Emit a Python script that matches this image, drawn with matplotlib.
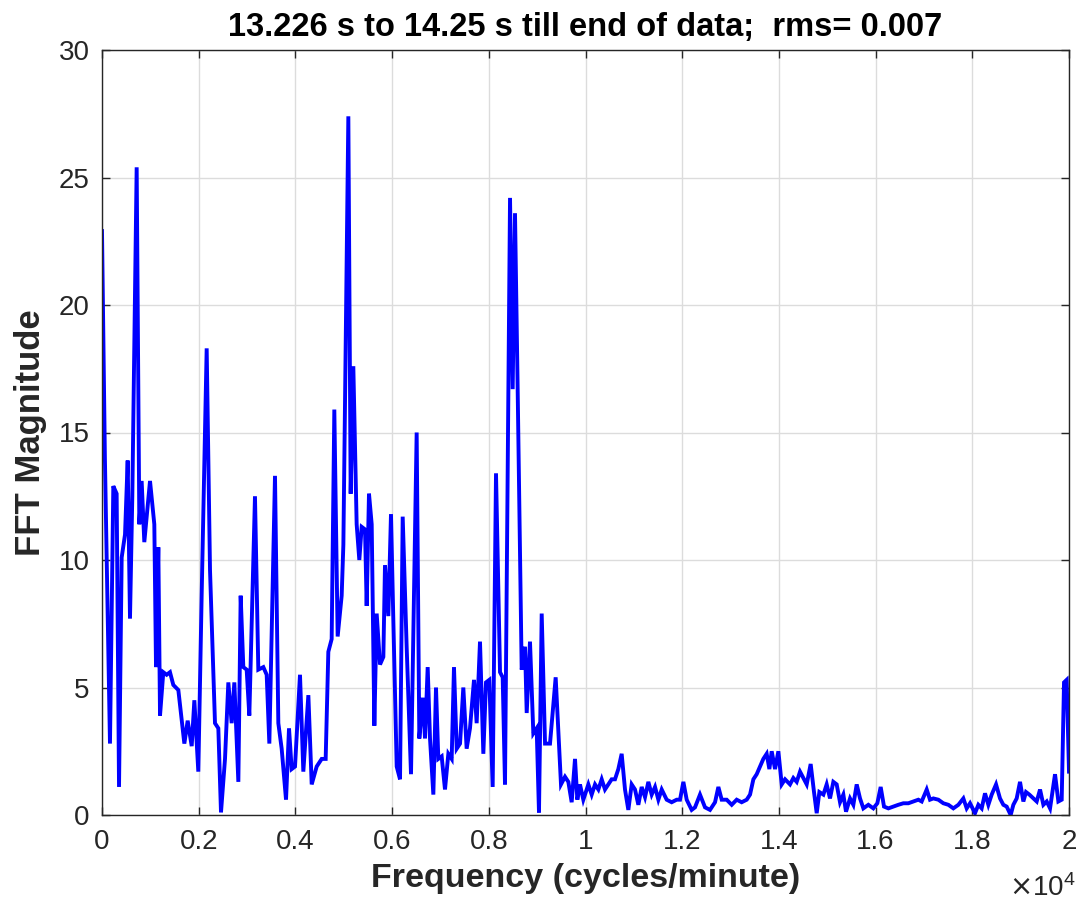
import matplotlib
matplotlib.use("Agg")
import matplotlib.pyplot as plt
from matplotlib.ticker import FuncFormatter

plt.rcParams['font.family'] = ['Liberation Sans', 'DejaVu Sans']

title_text = "13.226 s to 14.25 s till end of data;  rms= 0.007"
x_label = "Frequency (cycles/minute)"
y_label = "FFT Magnitude"

freq_cpm = [
    0, 60, 165, 234, 303, 352, 407, 476, 531, 579, 627, 717, 772, 820, 875, 993,
    1082, 1117, 1165, 1200, 1268, 1337, 1406, 1475, 1579, 1703, 1772, 1855, 1910,
    1992, 2061, 2165, 2234, 2337, 2406, 2461, 2544, 2613, 2682, 2737, 2820, 2868,
    2923, 2992, 3047, 3164, 3233, 3337, 3406, 3461, 3578, 3647, 3716, 3806, 3868,
    3923, 3992, 4095, 4164, 4268, 4337, 4440, 4544, 4626, 4681, 4750, 4805, 4874,
    4957, 4992, 5095, 5143, 5198, 5267, 5322, 5371, 5440, 5474, 5522, 5578, 5633,
    5681, 5750, 5819, 5853, 5922, 5977, 6026, 6095, 6164, 6219, 6301, 6391, 6508,
    6563, 6632, 6681, 6736, 6784, 6853, 6908, 6956, 7025, 7094, 7163, 7232, 7280,
    7336, 7405, 7473, 7542, 7611, 7694, 7749, 7818, 7887, 7942, 8011, 8080, 8149,
    8232, 8287, 8335, 8439, 8494, 8542, 8597, 8680, 8749, 8784, 8852, 8921, 8990,
    9038, 9094, 9163, 9266, 9383, 9493, 9576, 9645, 9714, 9783, 9831, 9886, 9955,
    10059, 10128, 10197, 10266, 10335, 10403, 10472, 10541, 10610, 10679, 10748,
    10817, 10886, 10955, 11024, 11093, 11162, 11231, 11300, 11369, 11438, 11507,
    11576, 11679, 11782, 11886, 11955, 12024, 12093, 12196, 12265, 12368, 12472,
    12575, 12679, 12748, 12817, 12920, 13024, 13127, 13230, 13334, 13403, 13472,
    13541, 13610, 13678, 13747, 13803, 13851, 13920, 13989, 14058, 14127, 14230,
    14299, 14368, 14437, 14506, 14575, 14657, 14726, 14782, 14837, 14920, 14988,
    15057, 15126, 15195, 15264, 15333, 15388, 15471, 15540, 15609, 15678, 15747,
    15850, 15953, 16036, 16105, 16174, 16264, 16367, 16470, 16574, 16677, 16781,
    16884, 16953, 17057, 17125, 17194, 17298, 17401, 17505, 17608, 17712, 17815,
    17884, 17953, 18056, 18125, 18194, 18263, 18332, 18401, 18491, 18573, 18642,
    18711, 18794, 18849, 18918, 18987, 19056, 19111, 19180, 19263, 19332, 19401,
    19470, 19539, 19608, 19711, 19780, 19849, 19897, 19952, 20000,
]

fft_mag = [
    22.9, 14.0, 2.8, 12.9, 12.6, 1.1, 10.1, 11.0, 13.9, 7.7, 12.5, 25.4, 11.4, 13.1, 10.7, 13.1,
    11.4, 5.8, 10.5, 3.9, 5.6, 5.5, 5.6, 5.1, 4.9, 2.8, 3.7, 2.7, 4.5,
    1.7, 8.6, 18.3, 9.6, 3.6, 3.4, 0.1, 2.2, 5.2, 3.6, 5.2, 1.3, 8.6,
    5.8, 5.7, 3.9, 12.5, 5.7, 5.8, 5.5, 2.8, 13.3, 3.6, 2.6, 0.6, 3.4,
    1.8, 1.9, 5.5, 1.7, 4.7, 1.2, 1.9, 2.2, 2.2, 6.4, 6.9, 15.9, 7.0,
    8.6, 10.6, 27.4, 12.6, 17.6, 11.4, 10.0, 11.3, 11.2, 8.2, 12.6, 11.4, 3.5,
    7.9, 5.9, 6.2, 9.8, 7.8, 11.8, 7.6, 1.9, 1.4, 11.7, 6.6, 1.6, 15.0,
    3.0, 4.6, 3.0, 5.8, 3.0, 0.8, 5.0, 2.2, 2.3, 1.0, 2.4, 2.2, 5.8,
    2.6, 2.8, 5.0, 2.6, 3.4, 5.3, 3.6, 6.8, 2.4, 5.2, 5.3, 1.1, 13.4,
    5.6, 5.4, 1.2, 24.2, 16.7, 23.6, 16.7, 5.7, 6.6, 4.0, 6.8, 3.2, 3.4,
    0.1, 7.9, 2.8, 2.8, 5.4, 1.2, 1.5, 1.3, 0.5, 2.2, 0.6, 1.2, 0.6,
    1.2, 0.8, 1.2, 1.0, 1.4, 1.0, 1.2, 1.4, 1.4, 1.8, 2.4,
    1.0, 0.2, 1.2, 1.0, 0.4, 1.1, 0.7, 1.3, 0.8, 1.1, 0.6,
    1.0, 0.6, 0.5, 0.6, 0.6, 1.3, 0.6, 0.2, 0.3, 0.8, 0.3,
    0.2, 0.5, 1.1, 0.6, 0.6, 0.4, 0.6, 0.5, 0.6, 0.8, 1.4,
    1.6, 1.9, 2.2, 2.4, 1.8, 2.5, 1.8, 2.5, 1.2, 1.4, 1.2,
    1.45, 1.3, 1.7, 1.45, 1.2, 2.0, 0.9, 0.07, 0.9, 0.8, 1.2,
    0.65, 1.3, 1.2, 0.5, 0.8, 0.13, 0.65, 0.4, 1.2, 0.65, 0.26,
    0.4, 0.26, 0.46, 1.1, 0.33, 0.26, 0.33, 0.4, 0.46, 0.46, 0.53,
    0.6, 0.53, 1.0, 0.6, 0.65, 0.6, 0.46, 0.4, 0.26, 0.4, 0.65,
    0.26, 0.46, 0.07, 0.4, 0.26, 0.85, 0.4, 0.8, 1.2, 0.65, 0.4,
    0.33, 0.0, 0.4, 0.65, 1.3, 0.53, 0.9, 0.8, 0.65, 0.53, 1.0,
    0.4, 0.53, 0.26, 1.6, 0.53, 0.6, 5.2, 5.3, 1.7,
]

x_ticks = [0, 2000, 4000, 6000, 8000, 10000, 12000, 14000, 16000, 18000, 20000]
y_ticks = [0, 5, 10, 15, 20, 25, 30]

W, H = 1081, 911
fig = plt.figure(figsize=(W / 100, H / 100), dpi=100)
ax = fig.add_axes([102 / W, (H - 815) / H, (1069 - 102) / W, (815 - 50) / H])

ax.plot(freq_cpm, fft_mag, color='#0000ff', linewidth=2.8, solid_joinstyle='miter')

ax.set_xlim(0, 20000)
ax.set_ylim(0, 30)
ax.set_xticks(x_ticks)
ax.set_yticks(y_ticks)
ax.xaxis.set_major_formatter(FuncFormatter(lambda v, p: f"{v / 1e4:g}"))

text_col = '#262626'
ax.grid(True, color='#dcdcdc', linewidth=1.0)
ax.set_axisbelow(True)
for s in ax.spines.values():
    s.set_color(text_col)
    s.set_linewidth(1.0)

ax.tick_params(axis='both', direction='in', length=6, width=1.0, colors=text_col,
               labelsize=20, top=True, right=True)
ax.tick_params(axis='x', pad=10)
ax.tick_params(axis='y', pad=9)

ax.set_title(title_text, fontsize=23.5, fontweight='bold', color='black', pad=10)
ax.set_xlabel(x_label, fontsize=24.5, fontweight='bold', color=text_col, labelpad=6)
ax.set_ylabel(y_label, fontsize=25, fontweight='bold', color=text_col, labelpad=8)

ax.text(1.007, -0.078, r'$\times\mathregular{10^{4}}$', transform=ax.transAxes,
        ha='right', va='top', fontsize=20, color=text_col)

fig.savefig('out.png', dpi=100)
